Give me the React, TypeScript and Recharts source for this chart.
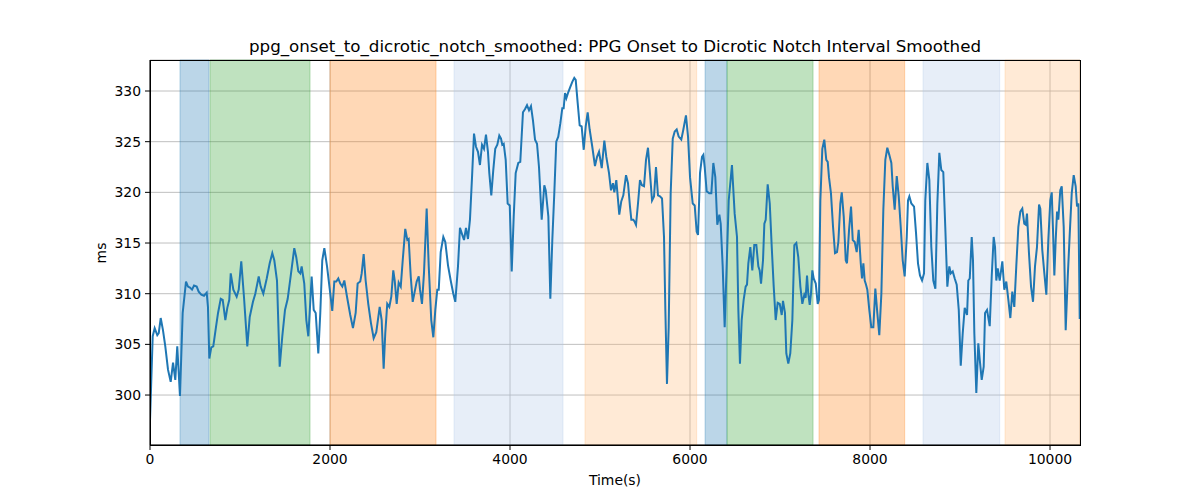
import { LineChart, Line, XAxis, YAxis, CartesianGrid, ReferenceArea } from "recharts"

const timeS = [
  0, 30, 52, 81, 97, 119, 144, 170, 200, 230, 256, 281, 303, 333, 363, 400, 422, 444, 467, 489,
  519, 541, 570, 600, 630, 644, 659, 681, 703, 733, 756, 786, 808, 837, 859, 881, 897, 926, 963, 986,
  1014, 1044, 1081, 1108, 1144, 1170, 1208, 1230, 1259, 1297, 1330, 1359, 1381, 1411, 1441, 1470, 1500, 1530, 1567, 1603,
  1625, 1648, 1670, 1685, 1714, 1737, 1759, 1774, 1796, 1819, 1841, 1870, 1892, 1914, 1937, 1967, 2003, 2025, 2048, 2070,
  2092, 2114, 2137, 2159, 2189, 2225, 2255, 2285, 2307, 2336, 2352, 2374, 2396, 2425, 2455, 2485, 2514, 2552, 2574, 2596,
  2614, 2636, 2659, 2681, 2703, 2719, 2741, 2763, 2786, 2808, 2836, 2859, 2874, 2897, 2919, 2941, 2963, 2986, 3000, 3022,
  3044, 3074, 3097, 3125, 3148, 3170, 3192, 3208, 3230, 3259, 3281, 3311, 3341, 3370, 3392, 3422, 3444, 3466, 3489, 3511,
  3533, 3555, 3578, 3600, 3622, 3644, 3666, 3689, 3711, 3733, 3755, 3770, 3792, 3814, 3836, 3859, 3881, 3900, 3914, 3930,
  3952, 3974, 3997, 4019, 4041, 4063, 4092, 4114, 4144, 4166, 4189, 4211, 4233, 4255, 4278, 4300, 4322, 4352, 4381, 4397,
  4426, 4448, 4470, 4492, 4514, 4536, 4559, 4581, 4596, 4611, 4626, 4648, 4670, 4692, 4714, 4730, 4752, 4774, 4796, 4819,
  4841, 4863, 4885, 4914, 4944, 4967, 4989, 5019, 5048, 5070, 5100, 5122, 5144, 5159, 5181, 5214, 5236, 5259, 5289, 5311,
  5333, 5348, 5370, 5385, 5400, 5422, 5444, 5466, 5489, 5511, 5533, 5555, 5578, 5600, 5622, 5644, 5666, 5689, 5711, 5726,
  5744, 5763, 5785, 5808, 5830, 5852, 5874, 5903, 5926, 5955, 5978, 6000, 6030, 6052, 6074, 6089, 6111, 6133, 6148, 6163,
  6185, 6214, 6237, 6259, 6281, 6303, 6326, 6341, 6363, 6385, 6407, 6430, 6466, 6496, 6522, 6537, 6555, 6574, 6596, 6618,
  6633, 6648, 6670, 6692, 6714, 6737, 6759, 6774, 6789, 6811, 6826, 6841, 6863, 6886, 6908, 6930, 6952, 6974, 6997, 7019,
  7033, 7055, 7070, 7092, 7114, 7137, 7159, 7181, 7203, 7226, 7248, 7270, 7285, 7300, 7314, 7330, 7344, 7359, 7374, 7397,
  7419, 7433, 7448, 7470, 7492, 7514, 7530, 7544, 7566, 7589, 7611, 7633, 7648, 7670, 7686, 7708, 7730, 7744, 7767, 7789,
  7808, 7830, 7852, 7874, 7897, 7911, 7926, 7941, 7955, 7970, 7992, 8014, 8037, 8059, 8081, 8103, 8126, 8148, 8170, 8192,
  8214, 8237, 8252, 8274, 8297, 8319, 8341, 8363, 8385, 8408, 8422, 8437, 8459, 8489, 8511, 8533, 8555, 8578, 8600, 8614,
  8637, 8659, 8681, 8703, 8726, 8748, 8770, 8792, 8814, 8836, 8859, 8881, 8897, 8919, 8941, 8963, 8986, 9008, 9030, 9052,
  9078, 9092, 9108, 9130, 9144, 9159, 9181, 9203, 9219, 9241, 9263, 9278, 9300, 9330, 9352, 9374, 9389, 9403, 9419, 9441,
  9470, 9492, 9514, 9537, 9559, 9581, 9603, 9625, 9648, 9670, 9692, 9714, 9730, 9744, 9766, 9789, 9811, 9833, 9855, 9878,
  9892, 9914, 9937, 9959, 9981, 10003, 10019, 10033, 10048, 10063, 10078, 10092, 10114, 10130, 10152, 10174, 10197, 10219, 10241, 10263,
  10285, 10300, 10315, 10330,
]

const intervalMs = [
  297.5, 305.8, 306.6, 305.9, 306.1, 307.6, 306.4, 304.8, 302.5, 301.3, 303.2, 301.5, 304.8, 299.9, 308.1, 311.2, 310.7, 310.6, 310.4, 310.8,
  310.7, 310.2, 309.9, 309.8, 310.1, 308.7, 303.6, 304.7, 304.8, 306.7, 308.1, 309.5, 309.4, 307.4, 308.6, 309.4, 312.0, 310.4, 309.7, 310.4,
  313.2, 309.7, 304.8, 307.7, 309.2, 310.0, 311.7, 310.7, 310.0, 311.5, 313.0, 314.0, 313.3, 311.3, 302.8, 305.8, 308.4, 309.5, 312.0, 314.5,
  313.6, 312.2, 312.0, 312.7, 311.0, 307.4, 305.8, 308.1, 311.7, 308.4, 308.1, 304.1, 308.1, 313.3, 314.5, 312.7, 310.0, 308.3, 311.2, 311.2,
  311.5, 311.0, 310.7, 311.3, 309.7, 307.9, 306.6, 308.1, 311.0, 311.2, 312.0, 313.9, 311.3, 309.0, 307.1, 305.6, 306.2, 308.7, 307.4, 302.6,
  306.1, 309.0, 308.7, 309.7, 312.3, 311.3, 309.0, 311.1, 310.7, 313.3, 316.4, 315.3, 315.4, 311.7, 309.2, 310.2, 311.2, 311.7, 310.4, 309.0,
  312.0, 318.4, 312.7, 307.4, 305.7, 308.4, 310.4, 310.4, 314.1, 315.6, 315.1, 312.8, 311.3, 310.0, 309.2, 312.7, 316.5, 315.9, 315.3, 316.5,
  315.4, 317.3, 321.5, 325.8, 324.5, 324.0, 322.7, 324.7, 324.3, 325.7, 324.0, 321.9, 319.7, 322.2, 324.3, 324.7, 325.6, 325.3, 324.7, 324.8,
  323.2, 318.9, 318.7, 312.2, 317.6, 321.9, 322.9, 323.0, 327.9, 328.2, 328.6, 328.1, 328.5, 327.1, 325.2, 324.8, 322.5, 317.3, 320.7, 320.2,
  317.6, 309.5, 315.3, 319.9, 325.0, 325.5, 326.8, 328.3, 328.3, 329.8, 329.3, 329.9, 330.4, 330.9, 331.3, 331.1, 328.8, 326.6, 326.5, 324.2,
  326.5, 327.9, 326.2, 324.5, 322.6, 323.5, 324.0, 322.4, 325.1, 323.5, 321.9, 320.2, 320.9, 320.0, 321.2, 317.8, 319.1, 319.7, 321.7, 320.9,
  318.6, 317.3, 317.3, 317.1, 316.8, 318.9, 321.2, 320.7, 320.6, 323.2, 324.4, 321.9, 319.2, 319.6, 322.5, 319.7, 319.6, 319.4, 315.6, 308.4,
  301.1, 306.7, 319.9, 325.3, 326.0, 326.2, 325.5, 325.2, 326.2, 327.6, 325.5, 321.5, 318.9, 318.7, 316.1, 315.8, 321.9, 323.5, 323.7, 322.5,
  320.1, 319.9, 319.9, 322.9, 321.5, 316.8, 317.8, 316.9, 312.7, 306.7, 312.7, 319.2, 322.7, 317.9, 315.6, 308.4, 303.1, 307.4, 309.4, 310.7,
  310.9, 313.0, 314.6, 312.3, 314.8, 314.8, 312.7, 312.3, 311.0, 313.3, 316.9, 317.3, 320.8, 318.9, 314.6, 310.7, 307.4, 309.1, 309.0, 307.9,
  309.3, 308.1, 304.1, 303.1, 304.1, 307.4, 314.8, 315.0, 313.6, 310.7, 309.0, 309.9, 309.6, 311.8, 310.0, 308.9, 310.0, 312.3, 311.5, 311.0,
  309.0, 309.4, 319.2, 324.3, 325.2, 323.2, 323.0, 321.5, 319.9, 316.6, 314.0, 314.1, 315.1, 318.9, 320.0, 317.6, 313.3, 313.0, 316.3, 318.6,
  315.3, 315.1, 314.1, 316.3, 313.0, 311.5, 313.0, 311.3, 310.9, 310.4, 308.4, 306.7, 306.7, 310.5, 308.1, 305.9, 310.0, 318.3, 323.2, 324.4,
  323.7, 322.9, 320.6, 318.3, 321.6, 319.6, 316.6, 313.3, 311.7, 315.6, 319.2, 319.6, 318.9, 318.6, 316.0, 313.0, 311.8, 311.3, 312.0, 319.2,
  322.9, 321.2, 314.6, 311.3, 310.5, 318.9, 323.9, 322.2, 322.0, 316.6, 310.7, 312.7, 312.0, 312.2, 311.5, 310.9, 308.4, 302.9, 306.1, 308.6,
  307.9, 311.3, 311.5, 315.6, 313.3, 306.1, 300.2, 305.1, 303.5, 301.5, 302.8, 308.1, 308.4, 306.8, 311.7, 315.6, 314.6, 311.3, 312.5, 311.3,
  313.2, 310.4, 311.2, 309.4, 307.6, 310.2, 308.7, 312.7, 316.6, 318.1, 318.4, 316.9, 316.8, 317.9, 314.0, 310.7, 309.2, 312.7, 314.6, 318.8,
  318.4, 314.3, 312.0, 309.9, 315.3, 319.2, 320.0, 316.3, 311.8, 315.3, 318.1, 317.3, 320.2, 320.6, 316.6, 306.4, 311.7, 315.9, 319.9, 321.7,
  320.6, 318.6, 318.9, 307.5,
]

// shaded segments (seconds)
const bandStart = [333, 667, 2000, 3378, 4833, 6167, 6411, 7433, 8589, 9500]
const bandEnd = [656, 1778, 3178, 4589, 6074, 6411, 7367, 8385, 9441, 10333]
const bandColor = ["#1f77b4", "#2ca02c", "#ff7f0e", "#aec7e8", "#ffbb78", "#1f77b4", "#2ca02c", "#ff7f0e", "#aec7e8", "#ffbb78"]

const xTicks = [0, 2000, 4000, 6000, 8000, 10000]
const yTicks = [300, 305, 310, 315, 320, 325, 330]
const xDomain = [0, 10333]
const yDomain = [295.07, 333.06]

const data = timeS.map((t, i) => ({ t, v: intervalMs[i] }))

const font = "'DejaVu Sans', sans-serif"
const tickStyle = { fill: "#000", fontSize: 13.9, fontFamily: font }

export default function App() {
  return (
    <div style={{ position: "absolute", left: 0, top: 0, width: 1200, height: 500, background: "#fff", fontFamily: font }}>
      <LineChart width={1200} height={500} data={data} margin={{ top: 60, right: 120, bottom: 0, left: 0 }}>
        {bandStart.map((s, i) => (
          <ReferenceArea
            key={i}
            x1={s}
            x2={bandEnd[i]}
            fill={bandColor[i]}
            fillOpacity={0.3}
            stroke={bandColor[i]}
            strokeOpacity={0.3}
          />
        ))}
        <CartesianGrid stroke="#b0b0b0" strokeWidth={0.8} />
        <XAxis
          dataKey="t"
          type="number"
          domain={xDomain}
          ticks={xTicks}
          allowDataOverflow
          height={55}
          tick={tickStyle}
          tickSize={5}
          tickMargin={4}
          stroke="#000"
        />
        <YAxis
          type="number"
          domain={yDomain}
          ticks={yTicks}
          allowDataOverflow
          width={150}
          tick={tickStyle}
          tickSize={5}
          tickMargin={4}
          stroke="#000"
        />
        <Line type="linear" dataKey="v" stroke="#1f77b4" strokeWidth={2} dot={false} isAnimationActive={false} />
      </LineChart>
      {/* axes frame */}
      <div style={{ position: "absolute", left: 150, top: 60, width: 931, height: 386, boxSizing: "border-box", border: "1px solid #000", pointerEvents: "none" }} />
      <div style={{ position: "absolute", left: 0, width: 1230, top: 36, textAlign: "center", fontSize: 16.7, color: "#000", whiteSpace: "nowrap" }}>
        ppg_onset_to_dicrotic_notch_smoothed: PPG Onset to Dicrotic Notch Interval Smoothed
      </div>
      <div style={{ position: "absolute", left: 0, width: 1230, top: 472, textAlign: "center", fontSize: 13.9, color: "#000" }}>
        Time(s)
      </div>
      <div style={{ position: "absolute", left: 101, top: 253, transform: "translate(-50%, -50%) rotate(-90deg)", fontSize: 13.9, color: "#000" }}>
        ms
      </div>
    </div>
  )
}
